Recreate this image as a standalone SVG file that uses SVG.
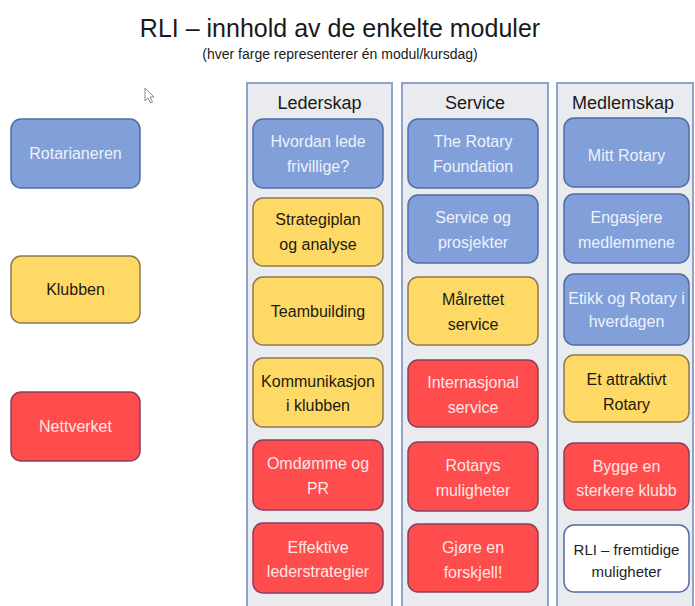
<svg xmlns="http://www.w3.org/2000/svg" width="695" height="606" viewBox="0 0 695 606">
<style>
text{font-family:"Liberation Sans",Arial,sans-serif;text-anchor:middle;dominant-baseline:central}
.panel{fill:#E9EBEF;stroke:#8EA3CB;stroke-width:2}
.b{fill:#819FD8;stroke:#4F6EA6;stroke-width:1.5}
.y{fill:#FFD966;stroke:#8A7A50;stroke-width:1.5}
.r{fill:#FF4C4C;stroke:#8A3F60;stroke-width:1.5}
.w{fill:#FFFFFF;stroke:#4F6EA6;stroke-width:1.5}
.tb{fill:#EEF2FA;font-size:16px}
.ty{fill:#1E1A10;font-size:16px}
.tr{fill:#FCE6E6;font-size:16px}
.tw{fill:#1E1E1E;font-size:15px}
.hd{fill:#1A1A1A;font-size:18px}
</style>
<rect width="695" height="606" fill="#FFFFFF"/>
<g id="title">
<text x="340" y="28" font-size="25" fill="#1A1A1A">RLI – innhold av de enkelte moduler</text>
<text x="340" y="54" font-size="14" fill="#1A1A1A">(hver farge representerer én modul/kursdag)</text>
</g>
<path d="M145,88 L145,101 L148,98 L150.5,103 L152.5,102 L150,97 L154,97 Z" fill="#FFFFFF" stroke="#8A8A8A" stroke-width="1"/>
<g id="legend-rotarianeren"><rect class="b" x="11" y="119" width="129" height="69" rx="10"/><text class="tb" x="75.5" y="153.5">Rotarianeren</text></g>
<g id="legend-klubben"><rect class="y" x="11" y="256" width="129" height="67" rx="10"/><text class="ty" x="75.5" y="289.5">Klubben</text></g>
<g id="legend-nettverket"><rect class="r" x="11" y="392" width="129" height="69" rx="10"/><text class="tr" x="75.5" y="426.5">Nettverket</text></g>

<g id="col-lederskap">
<rect class="panel" x="247" y="83" width="145" height="530"/>
<text class="hd" x="319.5" y="103">Lederskap</text>
</g>
<g id="col-service">
<rect class="panel" x="402" y="83" width="146" height="530"/>
<text class="hd" x="475" y="103">Service</text>
</g>
<g id="col-medlemskap">
<rect class="panel" x="557" y="83" width="136" height="530"/>
<text class="hd" x="623" y="103">Medlemskap</text>
</g>

<g id="l1"><rect class="b" x="253" y="119" width="130" height="69" rx="10"/><text class="tb" x="318" y="141.5">Hvordan lede</text><text class="tb" x="318" y="166.5">frivillige?</text></g>
<g id="l2"><rect class="y" x="253" y="198" width="130" height="68" rx="10"/><text class="ty" x="318" y="219.5">Strategiplan</text><text class="ty" x="318" y="244.5">og analyse</text></g>
<g id="l3"><rect class="y" x="253" y="277" width="130" height="68" rx="10"/><text class="ty" x="318" y="311">Teambuilding</text></g>
<g id="l4"><rect class="y" x="253" y="358" width="130" height="69" rx="10"/><text class="ty" x="318" y="381" font-size="14">Kommunikasjon</text><text class="ty" x="318" y="405" font-size="14">i klubben</text></g>
<g id="l5"><rect class="r" x="253" y="440" width="130" height="70" rx="10"/><text class="tr" x="318" y="463">Omdømme og</text><text class="tr" x="318" y="488">PR</text></g>
<g id="l6"><rect class="r" x="253" y="523" width="130" height="70" rx="10"/><text class="tr" x="318" y="547">Effektive</text><text class="tr" x="318" y="571" font-size="14">lederstrategier</text></g>

<g id="s1"><rect class="b" x="408" y="119" width="130" height="69" rx="10"/><text class="tb" x="473" y="141.5">The Rotary</text><text class="tb" x="473" y="166.5">Foundation</text></g>
<g id="s2"><rect class="b" x="408" y="195" width="130" height="68" rx="10"/><text class="tb" x="473" y="217">Service og</text><text class="tb" x="473" y="242">prosjekter</text></g>
<g id="s3"><rect class="y" x="408" y="277" width="130" height="68" rx="10"/><text class="ty" x="473" y="299">Målrettet</text><text class="ty" x="473" y="324">service</text></g>
<g id="s4"><rect class="r" x="408" y="360" width="130" height="67" rx="10"/><text class="tr" x="473" y="382">Internasjonal</text><text class="tr" x="473" y="407">service</text></g>
<g id="s5"><rect class="r" x="408" y="442" width="130" height="69" rx="10"/><text class="tr" x="473" y="465">Rotarys</text><text class="tr" x="473" y="490">muligheter</text></g>
<g id="s6"><rect class="r" x="408" y="524" width="130" height="68" rx="10"/><text class="tr" x="473" y="547">Gjøre en</text><text class="tr" x="473" y="572">forskjell!</text></g>

<g id="m1"><rect class="b" x="564" y="118" width="125" height="69" rx="10"/><text class="tb" x="626.5" y="155">Mitt Rotary</text></g>
<g id="m2"><rect class="b" x="564" y="194" width="125" height="69" rx="10"/><text class="tb" x="626.5" y="217">Engasjere</text><text class="tb" x="626.5" y="242">medlemmene</text></g>
<g id="m3"><rect class="b" x="564" y="274" width="125" height="71" rx="10"/><text class="tb" x="626.5" y="298" font-size="13.5">Etikk og Rotary i</text><text class="tb" x="626.5" y="321" font-size="13.5">hverdagen</text></g>
<g id="m4"><rect class="y" x="564" y="355" width="125" height="67" rx="10"/><text class="ty" x="626.5" y="379">Et attraktivt</text><text class="ty" x="626.5" y="404">Rotary</text></g>
<g id="m5"><rect class="r" x="564" y="443" width="125" height="67" rx="10"/><text class="tr" x="626.5" y="466">Bygge en</text><text class="tr" x="626.5" y="490">sterkere klubb</text></g>
<g id="m6"><rect class="w" x="564" y="525" width="125" height="67" rx="10"/><text class="tw" x="626.5" y="549">RLI – fremtidige</text><text class="tw" x="626.5" y="571">muligheter</text></g>
<g id="connectors"/>
</svg>
